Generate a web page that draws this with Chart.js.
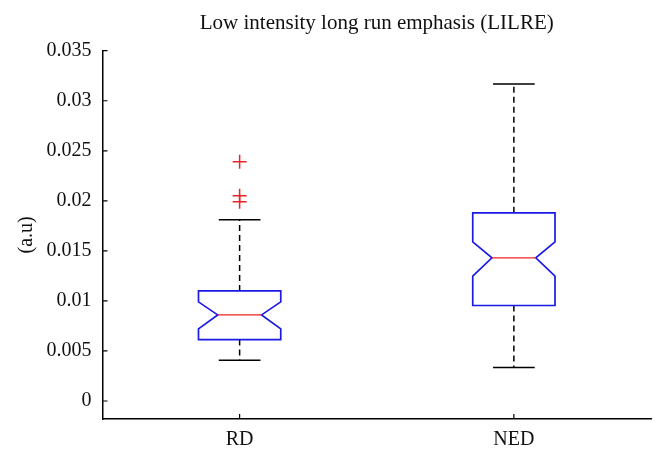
<!DOCTYPE html>
<html>
<head>
<meta charset="utf-8">
<script src="https://cdn.jsdelivr.net/npm/chart.js@4/dist/chart.umd.min.js"></script>
<style>
html,body{margin:0;padding:0;background:#fff;}
#wrap{width:665px;height:458px;position:relative;}
</style>
</head>
<body>
<div id="wrap"><canvas id="c"></canvas></div>
<script>
// ---- data ----
const chartTitle = 'Low intensity long run emphasis (LILRE)';
const categories = ['RD', 'NED'];
const q1Values = [0.00614, 0.00954];
const q3Values = [0.0110, 0.0188];
const medianValues = [0.0086, 0.0143];
const notchLowValues = [0.0072, 0.01247];
const notchHighValues = [0.0099, 0.0159];
const whiskerLowValues = [0.00407, 0.00334];
const whiskerHighValues = [0.0181, 0.03167];
const outliersRD = [0.0239, 0.0205, 0.0199];
const outliersNED = [];
const yTickValues = [0, 0.005, 0.01, 0.015, 0.02, 0.025, 0.03, 0.035];
const yTickLabels = ['0', '0.005', '0.01', '0.015', '0.02', '0.025', '0.03', '0.035'];

const SERIF = '"Liberation Serif", "DejaVu Serif", serif';

const outlierPoints = [];
outliersRD.forEach(v => outlierPoints.push({x: 1, y: v}));
outliersNED.forEach(v => outlierPoints.push({x: 2, y: v}));

const boxPlugin = {
  id: 'boxes',
  beforeDatasetsDraw(chart) {
    const ctx = chart.ctx;
    const xs = chart.scales.x, ys = chart.scales.y;
    const halfW = 0.15, notchW = 0.08, capW = 0.076;
    ctx.save();
    categories.forEach((cat, i) => {
      const c = i + 1;
      const X = v => xs.getPixelForValue(v);
      const Y = v => ys.getPixelForValue(v);
      // whiskers (dashed)
      ctx.strokeStyle = '#000';
      ctx.lineWidth = 1.5;
      ctx.setLineDash([6, 4]);
      ctx.beginPath();
      ctx.moveTo(X(c), Y(q3Values[i])); ctx.lineTo(X(c), Y(whiskerHighValues[i]));
      ctx.moveTo(X(c), Y(q1Values[i])); ctx.lineTo(X(c), Y(whiskerLowValues[i]));
      ctx.stroke();
      ctx.setLineDash([]);
      // caps
      ctx.beginPath();
      ctx.moveTo(X(c - capW), Y(whiskerHighValues[i])); ctx.lineTo(X(c + capW), Y(whiskerHighValues[i]));
      ctx.moveTo(X(c - capW), Y(whiskerLowValues[i])); ctx.lineTo(X(c + capW), Y(whiskerLowValues[i]));
      ctx.stroke();
      // notched box
      ctx.strokeStyle = '#1a1ae6';
      ctx.lineWidth = 1.7;
      ctx.beginPath();
      ctx.moveTo(X(c - halfW), Y(q3Values[i]));
      ctx.lineTo(X(c + halfW), Y(q3Values[i]));
      ctx.lineTo(X(c + halfW), Y(notchHighValues[i]));
      ctx.lineTo(X(c + notchW), Y(medianValues[i]));
      ctx.lineTo(X(c + halfW), Y(notchLowValues[i]));
      ctx.lineTo(X(c + halfW), Y(q1Values[i]));
      ctx.lineTo(X(c - halfW), Y(q1Values[i]));
      ctx.lineTo(X(c - halfW), Y(notchLowValues[i]));
      ctx.lineTo(X(c - notchW), Y(medianValues[i]));
      ctx.lineTo(X(c - halfW), Y(notchHighValues[i]));
      ctx.closePath();
      ctx.stroke();
      // median
      ctx.strokeStyle = '#ee2222';
      ctx.lineWidth = 1.4;
      ctx.beginPath();
      ctx.moveTo(X(c - notchW), Y(medianValues[i]));
      ctx.lineTo(X(c + notchW), Y(medianValues[i]));
      ctx.stroke();
    });
    // inward tick marks
    ctx.strokeStyle = '#000';
    ctx.lineWidth = 1.2;
    ctx.beginPath();
    const L = chart.chartArea.left, B = chart.chartArea.bottom;
    yTickValues.forEach(v => {
      const y = ys.getPixelForValue(v);
      ctx.moveTo(L, y); ctx.lineTo(L + 5, y);
    });
    categories.forEach((cat, i) => {
      const x = xs.getPixelForValue(i + 1);
      ctx.moveTo(x, B); ctx.lineTo(x, B - 5);
    });
    ctx.stroke();
    ctx.restore();
  },
  afterDraw(chart) {
    // title centred over the plot area
    const ctx = chart.ctx;
    const a = chart.chartArea;
    ctx.save();
    ctx.fillStyle = '#111';
    ctx.font = '21px ' + SERIF;
    ctx.textAlign = 'center';
    ctx.textBaseline = 'alphabetic';
    ctx.fillText(chartTitle, (a.left + a.right) / 2, 28.5);
    ctx.restore();
  }
};

new Chart(document.getElementById('c'), {
  type: 'scatter',
  data: {
    datasets: [{
      label: 'Outliers',
      data: outlierPoints,
      pointStyle: 'cross',
      pointRadius: 7,
      pointHoverRadius: 7,
      borderColor: '#ee2222',
      backgroundColor: '#ee2222',
      borderWidth: 1.5
    }]
  },
  options: {
    responsive: true,
    maintainAspectRatio: false,
    animation: false,
    layout: { padding: { left: 0, right: 14, top: 50.7, bottom: 0 } },
    plugins: {
      legend: { display: false },
      tooltip: { enabled: false },
      title: { display: false }
    },
    scales: {
      x: {
        type: 'linear',
        min: 0.5,
        max: 2.5,
        afterBuildTicks(scale) { scale.ticks = categories.map((c, i) => ({ value: i + 1 })); },
        afterFit(scale) { scale.height = 39; },
        ticks: {
          color: '#111',
          font: { family: SERIF, size: 20 },
          padding: 9,
          callback: (v) => categories[Math.round(v) - 1] || ''
        },
        grid: { display: false, drawTicks: false },
        border: { display: true, color: '#000', width: 1.5 }
      },
      y: {
        type: 'linear',
        min: -0.0018,
        max: 0.035,
        afterBuildTicks(scale) { scale.ticks = yTickValues.map(v => ({ value: v })); },
        afterFit(scale) { scale.width = 102.5; },
        ticks: {
          color: '#111',
          font: { family: SERIF, size: 20 },
          padding: 11,
          callback: (v) => { const k = yTickValues.findIndex(t => Math.abs(t - v) < 1e-9); return k >= 0 ? yTickLabels[k] : ''; }
        },
        title: {
          display: true,
          text: '(a.u)',
          color: '#111',
          font: { family: SERIF, size: 20 },
          padding: { top: 15, bottom: 0 }
        },
        grid: { display: false, drawTicks: false },
        border: { display: true, color: '#000', width: 1.5 }
      }
    }
  },
  plugins: [boxPlugin]
});
</script>
</body>
</html>
